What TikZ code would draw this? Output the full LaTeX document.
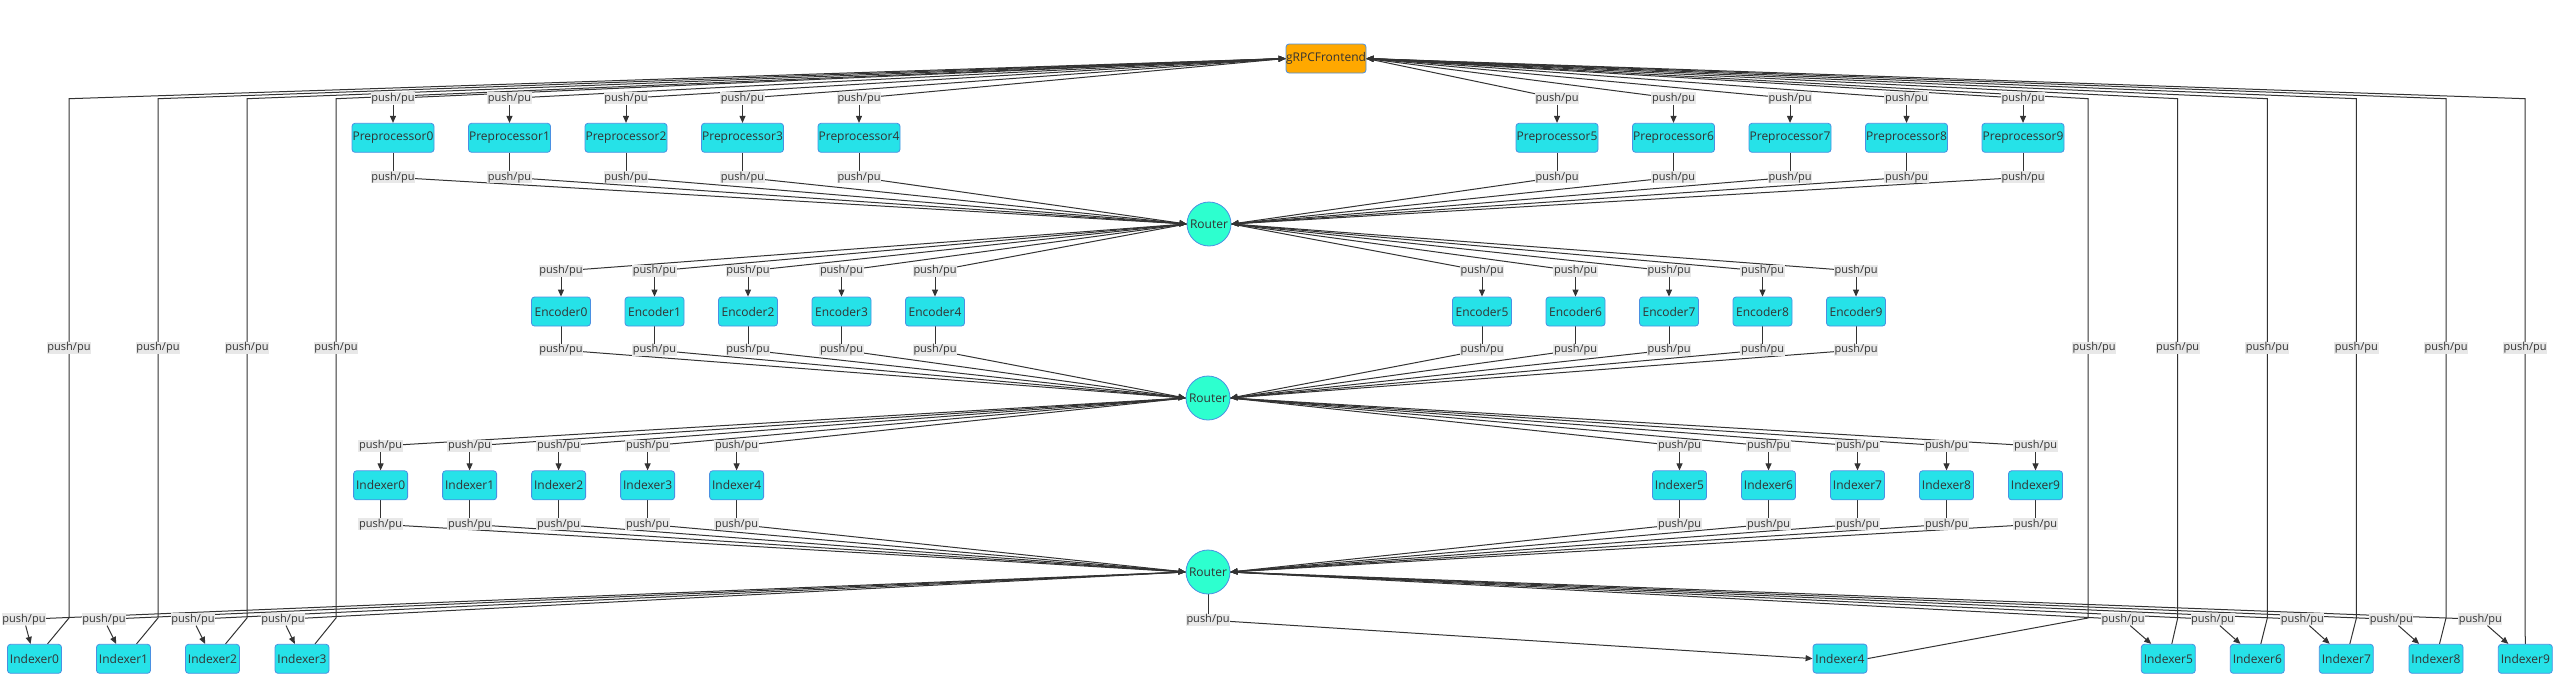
\documentclass[tikz,border=0pt]{standalone}
\usepackage{fontspec}
\setmainfont{Open Sans}
\usetikzlibrary{arrows.meta,backgrounds}
\definecolor{boxfill}{HTML}{26E2E8}
\definecolor{boxline}{HTML}{4A90E2}
\definecolor{frontfill}{HTML}{FFA800}
\definecolor{routerfill}{HTML}{2DFFCF}
\definecolor{linec}{HTML}{333333}
\definecolor{lblfill}{HTML}{E8E8E8}
\begin{document}
\begin{tikzpicture}
	[x=1pt,y=-1pt,
	every node/.style={font=\fontsize{11}{13}\selectfont,text=linec},
	box/.style={draw=boxline,fill=boxfill,rounded corners=3pt,minimum height=29pt,inner sep=0pt,line width=0.8pt,font=\fontsize{12}{14}\selectfont},
	front/.style={box,fill=frontfill,minimum width=80pt},
	prep/.style={box,minimum width=82pt},
	enc/.style={box,minimum width=59pt},
	idx/.style={box,minimum width=54pt},
	router/.style={circle,draw=boxline,fill=routerfill,minimum size=44pt,inner sep=0pt,line width=0.8pt,font=\fontsize{12}{14}\selectfont},
	lbl/.style={fill=lblfill,inner sep=0.6pt},
	wire/.style={draw=linec,line width=1pt},
	arr/.style={wire,-{Triangle[length=7pt,width=6pt]}}]
	\useasboundingbox (0,0) rectangle (2558,694);

	\node[front] (fe) at (1326,58.5) {gRPCFrontend};
	\node[router] (r1) at (1209,224) {Router};
	\node[router] (r2) at (1208,398) {Router};
	\node[router] (r3) at (1208,572) {Router};

	% upper three stages
	\foreach \i in {0,...,9}{
		\ifnum\i<5 \def\sd{west}\else\def\sd{east}\fi
		\pgfmathsetmacro{\px}{\i<5 ? 393+116.5*\i : 1557+116.5*(\i-5)}
		\pgfmathsetmacro{\ex}{\i<5 ? 561+93.5*\i : 1482+93.5*(\i-5)}
		\pgfmathsetmacro{\ix}{\i<5 ? 380.6+89*\i : 1679.5+89*(\i-5)}
		\node[prep] (p\i) at (\px,137.8) {Preprocessor\i};
		\node[lbl] (pa\i) at (\px,98.3) {push/pu};
		\node[lbl] (pb\i) at (\px,177.3) {push/pu};
		\node[enc] (e\i) at (\ex,311.5) {Encoder\i};
		\node[lbl] (ea\i) at (\ex,271) {push/pu};
		\node[lbl] (eb\i) at (\ex,350) {push/pu};
		\node[idx] (m\i) at (\ix,485.3) {Indexer\i};
		\node[lbl] (ma\i) at (\ix,446) {push/pu};
		\node[lbl] (mb\i) at (\ix,524.3) {push/pu};
		\begin{pgfonlayer}{background}
			\draw[wire] (fe.\sd) -- (pa\i.center);
			\draw[arr] (pa\i) -- (p\i);
			\draw[wire] (p\i) -- (pb\i);
			\draw[arr] (pb\i.center) -- (r1.\sd);
			\draw[wire] (r1.\sd) -- (ea\i.center);
			\draw[arr] (ea\i) -- (e\i);
			\draw[wire] (e\i) -- (eb\i);
			\draw[arr] (eb\i.center) -- (r2.\sd);
			\draw[wire] (r2.\sd) -- (ma\i.center);
			\draw[arr] (ma\i) -- (m\i);
			\draw[wire] (m\i) -- (mb\i);
			\draw[arr] (mb\i.center) -- (r3.\sd);
		\end{pgfonlayer}
	}

	% last stage and the way back
	\foreach \i/\bx/\lx/\vx/\so in {0/34.5/24/69/13,1/123.5/104/158/13,2/212.5/193/247/13,3/302/283/336/13,
		5/2168.3/2123/2177.7/3.5,6/2257.3/2212.7/2267.3/3.5,7/2346.3/2302.3/2356.4/3.5,8/2436/2391.3/2446/3.5,9/2525.3/2480.3/2525/0}{
		\ifnum\i<5 \def\sd{west}\else\def\sd{east}\fi
		\node[idx] (b\i) at (\bx,658.8) {Indexer\i};
		\node[lbl] (bl\i) at (\lx,619.3) {push/pu};
		\node[lbl] (fb\i) at (\vx,348) {push/pu};
		\begin{pgfonlayer}{background}
			\draw[wire] (r3.\sd) -- (bl\i.center);
			\draw[arr] (bl\i) -- (b\i);
			\draw[arr] ([xshift=\so pt]b\i.north) -- (\vx,618) -- (fb\i.center) -- (\vx,98.7) -- (fe.\sd);
		\end{pgfonlayer}
	}

	\node[idx] (b4) at (1840,658.6) {Indexer4};
	\node[lbl] (bl4) at (1208,620) {push/pu};
	\node[lbl] (fb4) at (2094,348) {push/pu};
	\begin{pgfonlayer}{background}
		\draw[wire] (r3) -- (bl4);
		\draw[arr] (bl4.center) -- (b4.west);
		\draw[arr] (b4.east) -- (2088,618) -- (2088,348) -- (2088,98.7) -- (fe.east);
	\end{pgfonlayer}
\end{tikzpicture}
\end{document}
